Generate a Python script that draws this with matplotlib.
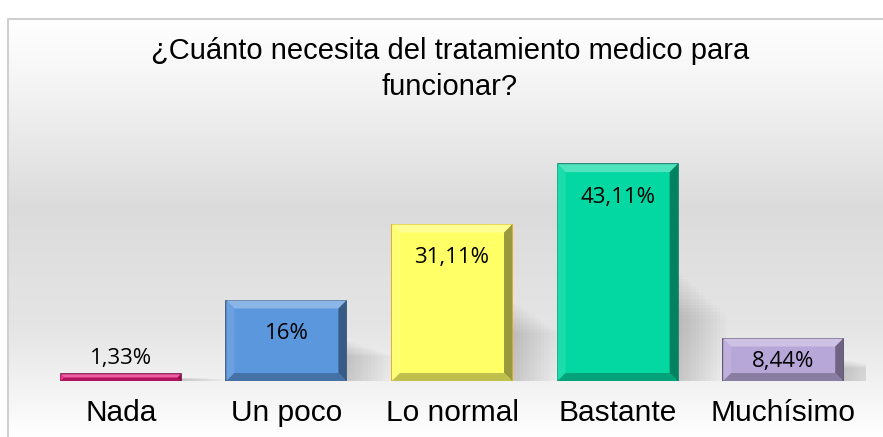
import numpy as np
import matplotlib
matplotlib.use("Agg")
import matplotlib.pyplot as plt
from matplotlib.patches import Polygon, Rectangle
from matplotlib.colors import to_rgb

# Chart data
categories = ["Nada", "Un poco", "Lo normal", "Bastante", "Muchísimo"]
values = [1.33, 16, 31.11, 43.11, 8.44]
value_labels = ["1,33%", "16%", "31,11%", "43,11%", "8,44%"]
bar_colors = ["#e8197d", "#5b97dd", "#ffff66", "#03d8a2", "#b7a6d8"]
edge_colors = ["#7a0c40", "#2f4f78", "#e0a800", "#0a7a64", "#4a3f5e"]
title = "¿Cuánto necesita del tratamiento medico para\nfuncionar?"

W, H = 883, 437
fig = plt.figure(figsize=(W / 100, H / 100), dpi=100)

# background gradient (white -> grey -> white) inside a thin frame
bg = fig.add_axes([0, 0, 1, 1])
bg.set_xlim(0, W)
bg.set_ylim(H, 0)
bg.axis("off")
ys = np.linspace(0, 1, 256)
g = np.interp(ys, [0, 0.12, 0.45, 0.75, 1.0], [1.0, 0.97, 0.86, 0.9, 1.0])
grad = np.dstack([g, g, g])[0][:, None, :].repeat(2, axis=1)
bg.imshow(grad, extent=[8, W, H, 19], aspect="auto", zorder=0)
bg.plot([8, 8, W], [H, 19, 19], color="#d0d0d0", lw=1.5, zorder=1)

# main axes: x from -0.5..4.5 spans px 38..866, y 0..50 spans px 381..129.5
ax = fig.add_axes([38 / W, 1 - 381 / H, (866 - 38) / W, (381 - 129.5) / H])
ax.patch.set_alpha(0)
ax.set_xlim(-0.5, 4.5)
ax.set_ylim(0, 50)
for s in ax.spines.values():
    s.set_visible(False)
ax.set_yticks([])
x = np.arange(len(categories))
ax.set_xticks(x)
ax.set_xticklabels(categories, fontsize=21.5, family="Liberation Sans")
ax.tick_params(axis="x", length=0, pad=13)

width = 0.725
bars = ax.bar(x, values, width=width, color=bar_colors, edgecolor=edge_colors,
              linewidth=1.2, zorder=3)

px_x = (866 - 38) / 5.0
px_y = (381 - 129.5) / 50.0


def shade(c, f):
    r, gg, b = to_rgb(c)
    if f > 0:
        return (r + (1 - r) * f, gg + (1 - gg) * f, b + (1 - b) * f)
    return (r * (1 + f), gg * (1 + f), b * (1 + f))


for bar, c in zip(bars, bar_colors):
    x0 = bar.get_x()
    x1 = x0 + bar.get_width()
    y1 = bar.get_height()
    bpx = min(8, y1 * px_y / 2)
    dx = bpx / px_x
    dy = bpx / px_y
    # soft shadow to the right, fading outward
    for k in range(14):
        ax.add_patch(Rectangle((x1, 0), (4 + k * 3.5) / px_x, y1 * (0.5 - k * 0.015),
                               color="k", alpha=0.012, lw=0, zorder=2))
    top = [(x0, y1), (x1, y1), (x1 - dx, y1 - dy), (x0 + dx, y1 - dy)]
    left = [(x0, 0), (x0, y1), (x0 + dx, y1 - dy), (x0 + dx, dy)]
    right = [(x1, 0), (x1, y1), (x1 - dx, y1 - dy), (x1 - dx, dy)]
    bot = [(x0, 0), (x1, 0), (x1 - dx, dy), (x0 + dx, dy)]
    for pts, f in [(top, 0.3), (left, 0.1), (right, -0.4), (bot, -0.25)]:
        ax.add_patch(Polygon(pts, closed=True, color=shade(c, f), lw=0, zorder=4))

for bar, lab in zip(bars, value_labels):
    cx = bar.get_x() + bar.get_width() / 2
    h = bar.get_height()
    hpx = h * px_y
    if hpx < 20:
        ax.annotate(lab, (cx, h), xytext=(0, 16), textcoords="offset pixels",
                    ha="center", va="center", fontsize=16, family="Open Sans", zorder=5)
    else:
        off = min(33, hpx / 2 + 2)
        ax.annotate(lab, (cx, h), xytext=(0, -off), textcoords="offset pixels",
                    ha="center", va="center", fontsize=16, family="Open Sans", zorder=5)

fig.text(450 / W, 1 - 69 / H, title, ha="center", va="center", fontsize=21,
         family="Liberation Sans", linespacing=1.4)

fig.savefig("out.png", dpi=100)
